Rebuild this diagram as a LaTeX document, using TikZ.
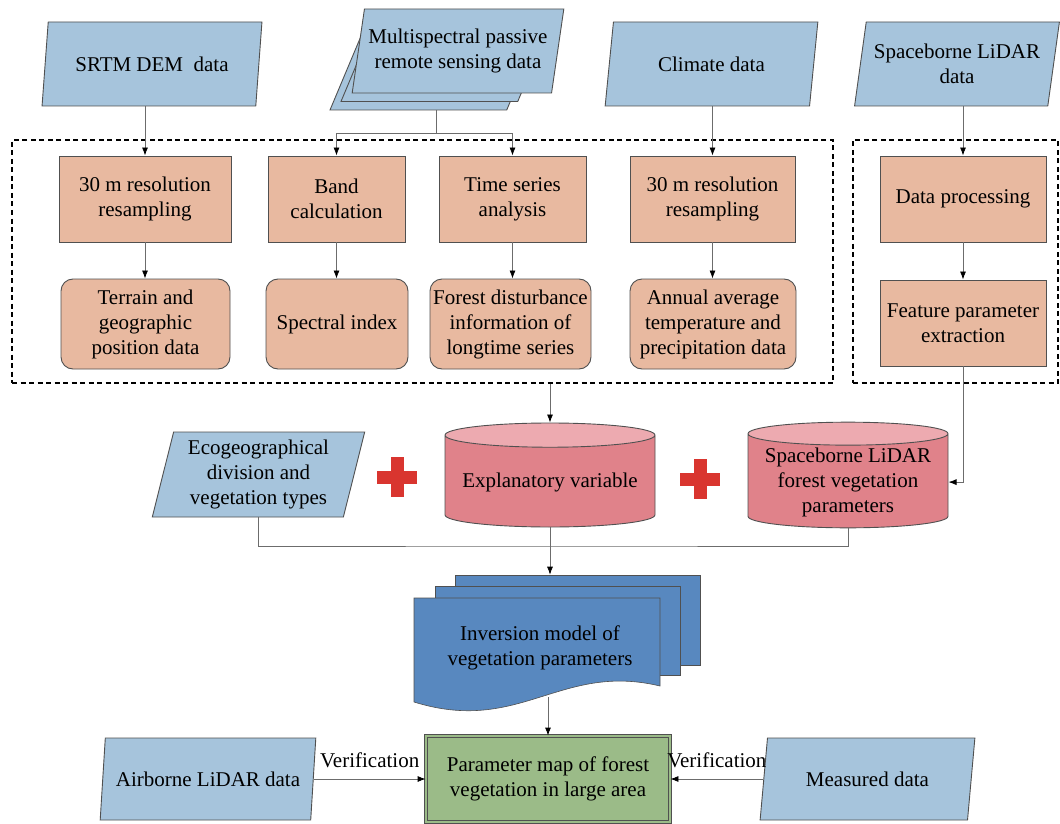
\documentclass[tikz,border=0pt]{standalone}
\usepackage{fontspec}
\setmainfont{Liberation Serif}
\usepackage{tikz}
\usetikzlibrary{shapes.geometric, arrows.meta, calc}
\definecolor{azzurro}{HTML}{A6C4DC}
\definecolor{salmone}{HTML}{E8B9A0}
\definecolor{rosa}{HTML}{E0828A}
\definecolor{rosachiaro}{HTML}{EDAAB0}
\definecolor{bluscuro}{HTML}{5888BF}
\definecolor{verde}{HTML}{9BBB88}
\definecolor{rosso}{HTML}{D9352F}
\definecolor{bordo}{HTML}{505050}
\newcommand{\croce}[1]{
\fill[rosso] ([xshift=-20pt,yshift=-6.5pt]#1) rectangle ([xshift=20pt,yshift=6.5pt]#1);
\fill[rosso] ([xshift=-6.5pt,yshift=-20pt]#1) rectangle ([xshift=6.5pt,yshift=20pt]#1);
}
\tikzset{
  dati/.style={trapezium, trapezium left angle=76, trapezium right angle=104, trapezium stretches=true, draw=bordo, line width=0.9pt, fill=azzurro, align=center, inner sep=2pt},
  passo/.style={rectangle, draw=bordo, line width=0.9pt, fill=salmone, align=center, inner sep=2pt},
  risultato/.style={passo, rounded corners=12pt},
  cornice/.style={draw=black, line width=1.2pt, dash pattern=on 5pt off 3.5pt},
  serbatoio/.style={cylinder, shape border rotate=90, aspect=0.135, draw=bordo, line width=0.9pt, cylinder uses custom fill, cylinder body fill=rosa, cylinder end fill=rosachiaro, align=center, inner sep=2pt},
  foglio/.style={rectangle, draw=bordo, line width=0.6pt, fill=bluscuro},
  mappa/.style={rectangle, draw=bordo, line width=0.8pt, double=verde, double distance=2pt, fill=verde, align=center},
  linea/.style={draw=gray!85!black, line width=0.8pt},
  freccia/.style={linea, -{Latex[length=8pt,width=6pt,color=black]}}
}
\begin{document}
\begin{tikzpicture}[x=1pt, y=-1pt, font=\fontsize{21}{25}\selectfont]
    \useasboundingbox (0,0) rectangle (1060,824);
    % Riquadri tratteggiati
    \node[cornice, minimum width=821pt, minimum height=243pt] (cornice1) at (422.5,261.5) {};
    \node[cornice, minimum width=205pt, minimum height=243pt] (cornice2) at (955.5,261.5) {};
    % Dati di ingresso
    \node[dati, minimum width=220pt, minimum height=84pt] (srtm) at (152,64) {SRTM DEM\ \ data};
    \node[dati, minimum width=212pt, minimum height=84pt] (msB2) at (436,68) {};
    \node[dati, minimum width=212pt, minimum height=84pt] (msB1) at (447,59.5) {};
    \node[dati, minimum width=212pt, minimum height=84pt] (ms) at (458,51) {Multispectral passive\\remote sensing data};
    \node[dati, minimum width=213pt, minimum height=84pt] (clima) at (711.5,64) {Climate data};
    \node[dati, minimum width=205pt, minimum height=84pt] (lidar) at (957,64) {Spaceborne LiDAR\\data};
    % Elaborazioni
    \node[passo, minimum width=172pt, minimum height=86pt] (ricA) at (145,199) {30 m resolution\\resampling};
    \node[passo, minimum width=137pt, minimum height=86pt] (band) at (336.5,199) {Band\\calculation};
    \node[passo, minimum width=147pt, minimum height=86pt] (serie) at (512.5,199) {Time series\\analysis};
    \node[passo, minimum width=165pt, minimum height=86pt] (ricB) at (712.5,199) {30 m resolution\\resampling};
    \node[passo, minimum width=166pt, minimum height=86pt] (elab) at (963,199) {Data processing};
    % Prodotti
    \node[risultato, minimum width=169pt, minimum height=90pt] (terreno) at (145.5,324) {Terrain and\\geographic\\position data};
    \node[risultato, minimum width=142pt, minimum height=90pt] (indice) at (337,324) {Spectral index};
    \node[risultato, minimum width=161pt, minimum height=90pt] (disturbo) at (510.5,324) {Forest disturbance\\information of\\longtime series};
    \node[risultato, minimum width=166pt, minimum height=90pt] (clima2) at (713,324) {Annual average\\temperature and\\precipitation data};
    \node[passo, minimum width=166pt, minimum height=86pt] (estr) at (963,323) {Feature parameter\\extraction};
    % Variabili
    \node[dati, minimum width=213pt, minimum height=85pt] (eco) at (258.5,474.5) {Ecogeographical\\division and\\vegetation types};
    \node[serbatoio, minimum width=210pt, minimum height=104pt, anchor=shape center] (cilA) at (550,475) {Explanatory variable};
    \node[serbatoio, minimum width=200pt, minimum height=104pt, anchor=shape center] (cilB) at (848,475) {Spaceborne LiDAR\\forest vegetation\\parameters};
    \coordinate (piu1) at (397,477);
    \coordinate (piu2) at (700,479);
    \croce{piu1}
    \croce{piu2}
    % Modello
    \node[foglio, minimum width=245pt, minimum height=90pt] (modFondo) at (577.5,620) {};
    \node[foglio, minimum width=245pt, minimum height=89pt] (modMezzo) at (557.5,630.5) {};
    \draw[bordo, line width=0.6pt, fill=bluscuro] (414,598) -- (660,598) -- (660,686) .. controls (560,662) and (520,735) .. (414,702) -- cycle;
    \node[align=center, inner sep=0pt, minimum width=246pt, minimum height=99pt] (modello) at (540,647.5) {Inversion model of\\vegetation parameters};
    % Risultato e verifica
    \node[mappa, minimum width=244pt, minimum height=86pt] (mappa) at (548,779) {Parameter map of forest\\vegetation in large area};
    \node[dati, minimum width=216pt, minimum height=82pt] (aereo) at (208,779) {Airborne LiDAR data};
    \node[dati, minimum width=215pt, minimum height=82pt] (misure) at (867.5,779) {Measured data};
    % Collegamenti
    \draw[freccia] (srtm.south -| ricA.north) -- (ricA.north);
    \coordinate (diram) at ($(msB2.south)+(0,23)$);
    \draw[linea] (msB2.south) -- (diram);
    \draw[freccia] (diram) -| (band.north);
    \draw[freccia] (diram) -| (serie.north);
    \draw[freccia] (clima.south -| ricB.north) -- (ricB.north);
    \draw[freccia] (lidar.south -| elab.north) -- (elab.north);
    \draw[freccia] (ricA.south) -- (ricA.south |- terreno.north);
    \draw[freccia] (band.south) -- (band.south |- indice.north);
    \draw[freccia] (serie.south) -- (serie.south |- disturbo.north);
    \draw[freccia] (ricB.south) -- (ricB.south |- clima2.north);
    \draw[freccia] (elab.south) -- (elab.south |- estr.north);
    \draw[freccia] (cornice1.south -| cilA.north) -- (cilA.north);
    \draw[freccia] (estr.south) |- (cilB.east);
    \coordinate (giunto) at (550,546);
    \draw[linea] (eco.south) |- (giunto) -| (cilB.south);
    \draw[freccia] (cilA.south) -- (cilA.south |- modFondo.north);
    \draw[freccia] (mappa.north |- modello.south) -- (mappa.north);
    \draw[freccia] (aereo.east) -- (mappa.west |- aereo.east) node[midway, above=7pt] (verifica1) {Verification};
    \draw[freccia] (misure.west) -- (mappa.east |- misure.west) node[midway, above=7pt] (verifica2) {Verification};
\end{tikzpicture}
\end{document}
